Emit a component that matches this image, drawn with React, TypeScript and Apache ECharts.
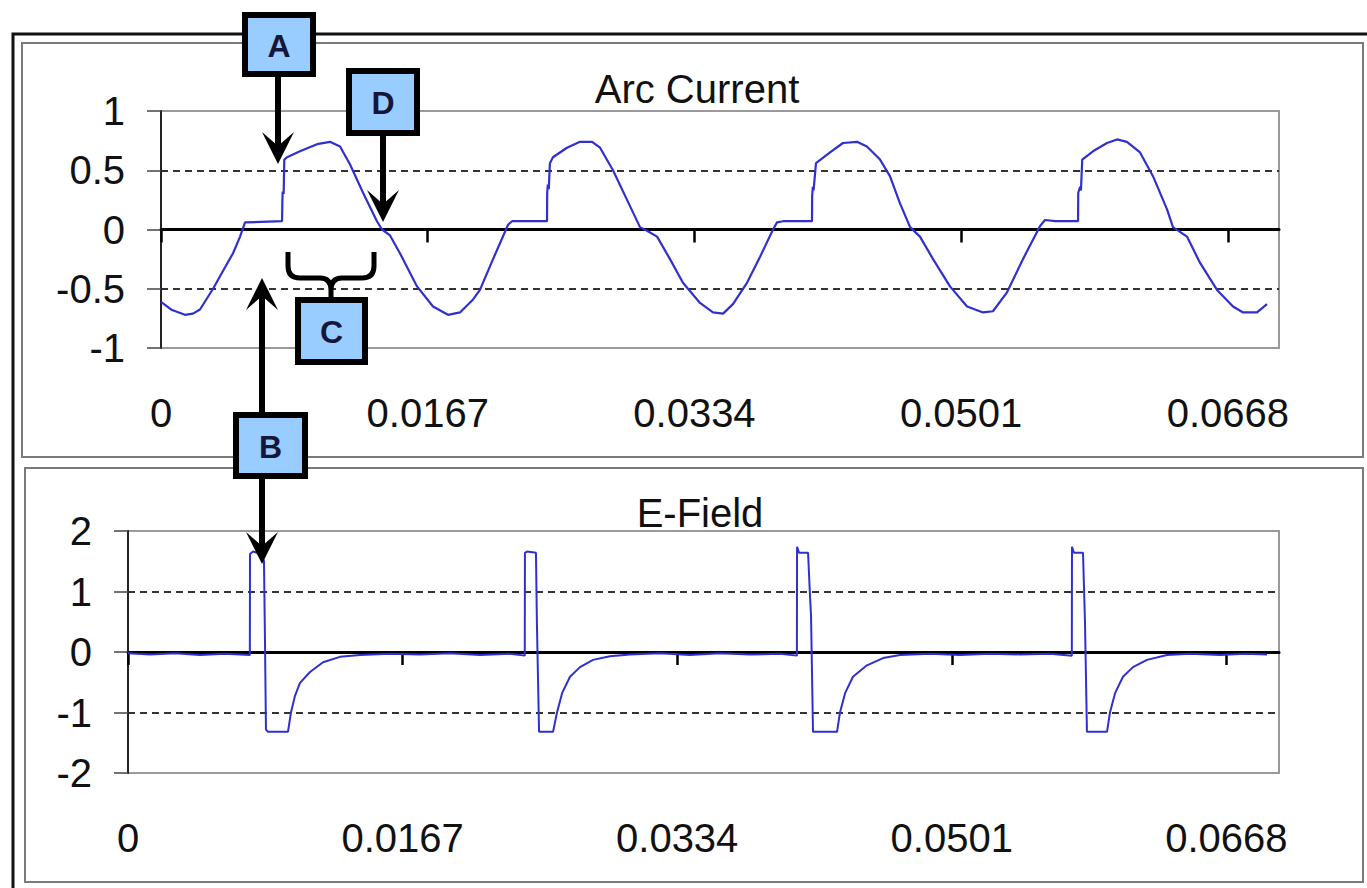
import React, { useEffect, useRef } from "react";
import * as echarts from "echarts";

// ---------- data ----------
const xTickValues = [0, 0.0167, 0.0334, 0.0501, 0.0668];
const xMax = 0.07;

const arcTitle = "Arc Current";
const efTitle = "E-Field";

const arcTime = [
  0, 0.00069, 0.0015, 0.002, 0.00244, 0.00326, 0.00388, 0.00451, 0.00495, 0.00526,
  0.00758, 0.0076, 0.00762, 0.00768, 0.00772, 0.00789, 0.0087, 0.00977, 0.01058, 0.01121,
  0.01183, 0.01265, 0.01352, 0.01384, 0.01434, 0.01496, 0.01603, 0.01703, 0.01797, 0.01872,
  0.01954, 0.01997, 0.02079, 0.02173, 0.02198, 0.02417, 0.02418, 0.02422, 0.02428, 0.02435,
  0.02454, 0.02542, 0.02623, 0.02699, 0.02749, 0.0283, 0.02918, 0.02999, 0.03043, 0.03106,
  0.03187, 0.03268, 0.03375, 0.03456, 0.03519, 0.03581, 0.03669, 0.03751, 0.03832, 0.03857,
  0.03895, 0.04076, 0.04077, 0.04081, 0.04086, 0.04101, 0.04189, 0.0427, 0.04358, 0.0442,
  0.04502, 0.04564, 0.04627, 0.0469, 0.04752, 0.04834, 0.0494, 0.05047, 0.05147, 0.05209,
  0.05297, 0.05397, 0.05504, 0.05535, 0.05598, 0.05742, 0.05743, 0.05755, 0.0576, 0.05768,
  0.05835, 0.05923, 0.05986, 0.06048, 0.0613, 0.06211, 0.06299, 0.06336, 0.06424, 0.06505,
  0.06612, 0.06712, 0.06775, 0.06862, 0.06925,
];
const arcValue = [
  -0.61, -0.68, -0.72, -0.71, -0.675, -0.5, -0.35, -0.2, -0.06, 0.06,
  0.07, 0.25, 0.32, 0.3, 0.59, 0.61, 0.66, 0.72, 0.74, 0.7,
  0.55, 0.31, 0.07, 0.0, -0.05, -0.2, -0.48, -0.65, -0.72, -0.7,
  -0.59, -0.51, -0.25, 0.04, 0.07, 0.07, 0.31, 0.38, 0.34, 0.56,
  0.61, 0.69, 0.74, 0.74, 0.69, 0.5, 0.25, 0.02, -0.01, -0.06,
  -0.25, -0.45, -0.62, -0.7, -0.71, -0.63, -0.45, -0.23, 0.0, 0.06,
  0.07, 0.07, 0.28, 0.36, 0.33, 0.56, 0.65, 0.73, 0.74, 0.7,
  0.59, 0.45, 0.22, 0.02, -0.06, -0.25, -0.48, -0.65, -0.7, -0.69,
  -0.53, -0.25, 0.03, 0.08, 0.07, 0.07, 0.31, 0.36, 0.33, 0.59,
  0.66, 0.73, 0.76, 0.74, 0.65, 0.45, 0.17, 0.02, -0.06, -0.28,
  -0.51, -0.65, -0.7, -0.7, -0.63,
];

const efTime = [
  0, 0.00134, 0.00286, 0.00438, 0.0059, 0.00741, 0.00742, 0.0076, 0.00815, 0.00827,
  0.00833, 0.00839, 0.00851, 0.00973, 0.00991, 0.01016, 0.01046, 0.01107, 0.01186, 0.01289,
  0.01411, 0.01593, 0.01776, 0.01958, 0.02141, 0.02323, 0.02413, 0.02414, 0.02427, 0.02481,
  0.02487, 0.02494, 0.025, 0.02585, 0.02609, 0.0264, 0.02688, 0.02749, 0.02828, 0.02931,
  0.03053, 0.03236, 0.03418, 0.036, 0.03783, 0.03965, 0.04068, 0.04069, 0.04081, 0.04136,
  0.04148, 0.04154, 0.04166, 0.04312, 0.0433, 0.04361, 0.04409, 0.04494, 0.04592, 0.04695,
  0.04878, 0.0506, 0.05242, 0.05425, 0.05607, 0.0574, 0.05741, 0.05753, 0.05808, 0.0582,
  0.05832, 0.05954, 0.05972, 0.06003, 0.06051, 0.06112, 0.06197, 0.06319, 0.06459, 0.06641,
  0.06793, 0.06927,
];
const efValue = [
  -0.02, -0.04, -0.02, -0.05, -0.03, -0.05, 1.62, 1.66, 1.62, 1.5,
  0.2, -1.28, -1.32, -1.32, -1.0, -0.72, -0.51, -0.33, -0.17, -0.08,
  -0.05, -0.03, -0.04, -0.02, -0.05, -0.03, -0.06, 1.64, 1.66, 1.64,
  0.45, -0.5, -1.32, -1.32, -1.0, -0.68, -0.41, -0.25, -0.13, -0.07,
  -0.04, -0.02, -0.05, -0.02, -0.04, -0.03, -0.06, 1.74, 1.64, 1.64,
  0.91, 0.6, -1.32, -1.32, -1.0, -0.68, -0.41, -0.22, -0.1, -0.05,
  -0.03, -0.05, -0.03, -0.04, -0.03, -0.06, 1.74, 1.64, 1.64, 0.5,
  -1.32, -1.32, -1.0, -0.68, -0.41, -0.25, -0.13, -0.05, -0.03, -0.05,
  -0.03, -0.04,
];

const markerLetters = ["A", "B", "C", "D"];

// ---------- styles ----------
const FONT = "'Liberation Sans', Arial, Helvetica, sans-serif";
const BLUE = "#3030d0";
const BOX_FILL = "#99ccff";

function boxElems(letter: string, x0: number, y0: number, x1: number, y1: number) {
  const lw = 6;
  return [
    {
      type: "rect",
      z: 50,
      shape: { x: x0 + lw / 2, y: y0 + lw / 2, width: x1 - x0 - lw, height: y1 - y0 - lw },
      style: { fill: BOX_FILL, stroke: "#000", lineWidth: lw },
    },
    {
      type: "text",
      z: 51,
      style: {
        text: letter,
        x: (x0 + x1) / 2,
        y: (y0 + y1) / 2 + 1,
        align: "center",
        verticalAlign: "middle",
        textAlign: "center",
        textVerticalAlign: "middle",
        fontSize: 32,
        fontWeight: "bold",
        fontFamily: FONT,
        fill: "#161638",
      },
    },
  ];
}

function arrowDown(x: number, y0: number, tip: number) {
  return [
    { type: "line", z: 49, shape: { x1: x, y1: y0, x2: x, y2: tip - 18 }, style: { stroke: "#000", lineWidth: 6 } },
    {
      type: "polygon",
      z: 49,
      shape: { points: [[x, tip], [x - 16, tip - 32], [x, tip - 18], [x + 16, tip - 32]] },
      style: { fill: "#000" },
    },
  ];
}
function arrowUp(x: number, y0: number, tip: number) {
  return [
    { type: "line", z: 49, shape: { x1: x, y1: y0, x2: x, y2: tip + 18 }, style: { stroke: "#000", lineWidth: 6 } },
    {
      type: "polygon",
      z: 49,
      shape: { points: [[x, tip], [x - 16, tip + 32], [x, tip + 18], [x + 16, tip + 32]] },
      style: { fill: "#000" },
    },
  ];
}

const braceD =
  "M288,252 L288,266 Q288,278 300,278 L320,278 Q331,278 331,290 L331,299 M374,252 L374,266 Q374,278 362,278 L342,278 Q331,278 331,290";

function makeXAxes(grid: number) {
  return [
    {
      gridIndex: grid,
      type: "value",
      min: 0,
      max: xMax,
      position: "top",
      axisLine: { show: true, onZero: true, lineStyle: { color: "#000", width: 3 } },
      axisTick: {
        show: true,
        inside: true,
        length: 13,
        customValues: xTickValues,
        lineStyle: { color: "#000", width: 2.5 },
      },
      axisLabel: { show: false },
      splitLine: { show: false },
    },
    {
      gridIndex: grid,
      type: "value",
      min: 0,
      max: xMax,
      position: "bottom",
      axisLine: { show: false, onZero: false },
      axisTick: { show: false },
      axisLabel: {
        show: true,
        margin: 45,
        fontSize: 40,
        color: "#111",
        fontFamily: FONT,
        customValues: xTickValues,
      },
      splitLine: { show: false },
    },
  ];
}

function makeYAxis(grid: number, min: number, max: number, interval: number, margin: number) {
  return {
    gridIndex: grid,
    type: "value",
    min,
    max,
    interval,
    position: "left",
    axisLine: { show: true, onZero: false, lineStyle: { color: "#222", width: 2 } },
    axisTick: { show: true, length: 14, lineStyle: { color: "#444", width: 1.5 } },
    axisLabel: { margin, fontSize: 40, color: "#111", fontFamily: FONT },
    splitLine: {
      show: true,
      showMinLine: false,
      showMaxLine: false,
      lineStyle: { type: [7, 5], color: "#333", width: 2 },
    },
  };
}

export default function App() {
  const ref = useRef<HTMLDivElement>(null);

  useEffect(() => {
    document.body.style.margin = "0";
    echarts.graphic.registerShape("brace", echarts.graphic.extendPath(braceD, {}));
    const chart = echarts.init(ref.current as HTMLDivElement, null, { renderer: "svg" });

    const arcData = arcTime.map((t, i) => [t, arcValue[i]]);
    const efData = efTime.map((t, i) => [t, efValue[i]]);

    const graphics: any[] = [
      // frames
      {
        type: "polyline",
        z: 1,
        shape: { points: [[13, 890], [13, 34], [1369, 34]] },
        style: { stroke: "#111", lineWidth: 3, fill: null },
      },
      {
        type: "rect",
        z: 1,
        shape: { x: 22, y: 43, width: 1341, height: 414 },
        style: { stroke: "#7a7a7a", lineWidth: 2, fill: null },
      },
      {
        type: "rect",
        z: 1,
        shape: { x: 25, y: 468, width: 1338, height: 414 },
        style: { stroke: "#7a7a7a", lineWidth: 2, fill: null },
      },
      // titles
      {
        type: "text",
        z: 5,
        style: {
          text: arcTitle,
          x: 697,
          y: 89,
          align: "center",
          verticalAlign: "middle",
          textAlign: "center",
          textVerticalAlign: "middle",
          fontSize: 40,
          fontFamily: FONT,
          fill: "#111",
        },
      },
      {
        type: "text",
        z: 5,
        style: {
          text: efTitle,
          x: 700,
          y: 513,
          align: "center",
          verticalAlign: "middle",
          textAlign: "center",
          textVerticalAlign: "middle",
          fontSize: 40,
          fontFamily: FONT,
          fill: "#111",
        },
      },
      // arrows
      ...arrowDown(278, 74, 164),
      ...arrowDown(383, 133, 222),
      ...arrowUp(262, 415, 278),
      ...arrowDown(262, 476, 564),
      // brace
      {
        type: "brace",
        z: 49,
        x: 0,
        y: 0,
        style: { stroke: "#000", lineWidth: 5, fill: null, lineCap: "butt" },
      },
      // boxes
      ...boxElems(markerLetters[0], 242, 12, 316, 77),
      ...boxElems(markerLetters[1], 233, 412, 308, 479),
      ...boxElems(markerLetters[2], 295, 297, 368, 365),
      ...boxElems(markerLetters[3], 346, 68, 420, 136),
    ];

    chart.setOption({
      animation: false,
      backgroundColor: "#ffffff",
      grid: [
        { left: 161, top: 111, width: 1118, height: 237, show: true, borderColor: "#9a9a9a", borderWidth: 2, backgroundColor: "transparent" },
        { left: 128, top: 531, width: 1151, height: 242, show: true, borderColor: "#9a9a9a", borderWidth: 2, backgroundColor: "transparent" },
      ],
      xAxis: [...makeXAxes(0), ...makeXAxes(1)],
      yAxis: [makeYAxis(0, -1, 1, 0.5, 36), makeYAxis(1, -2, 2, 1, 36)],
      series: [
        {
          type: "line",
          xAxisIndex: 0,
          yAxisIndex: 0,
          data: arcData,
          showSymbol: false,
          symbol: "none",
          lineStyle: { color: BLUE, width: 2.2 },
          z: 3,
        },
        {
          type: "line",
          xAxisIndex: 2,
          yAxisIndex: 1,
          data: efData,
          showSymbol: false,
          symbol: "none",
          lineStyle: { color: BLUE, width: 2 },
          z: 3,
        },
      ],
      graphic: graphics,
    });

    return () => chart.dispose();
  }, []);

  return (
    <div
      ref={ref}
      style={{ position: "absolute", left: 0, top: 0, width: 1367, height: 888, background: "#fff" }}
    />
  );
}
